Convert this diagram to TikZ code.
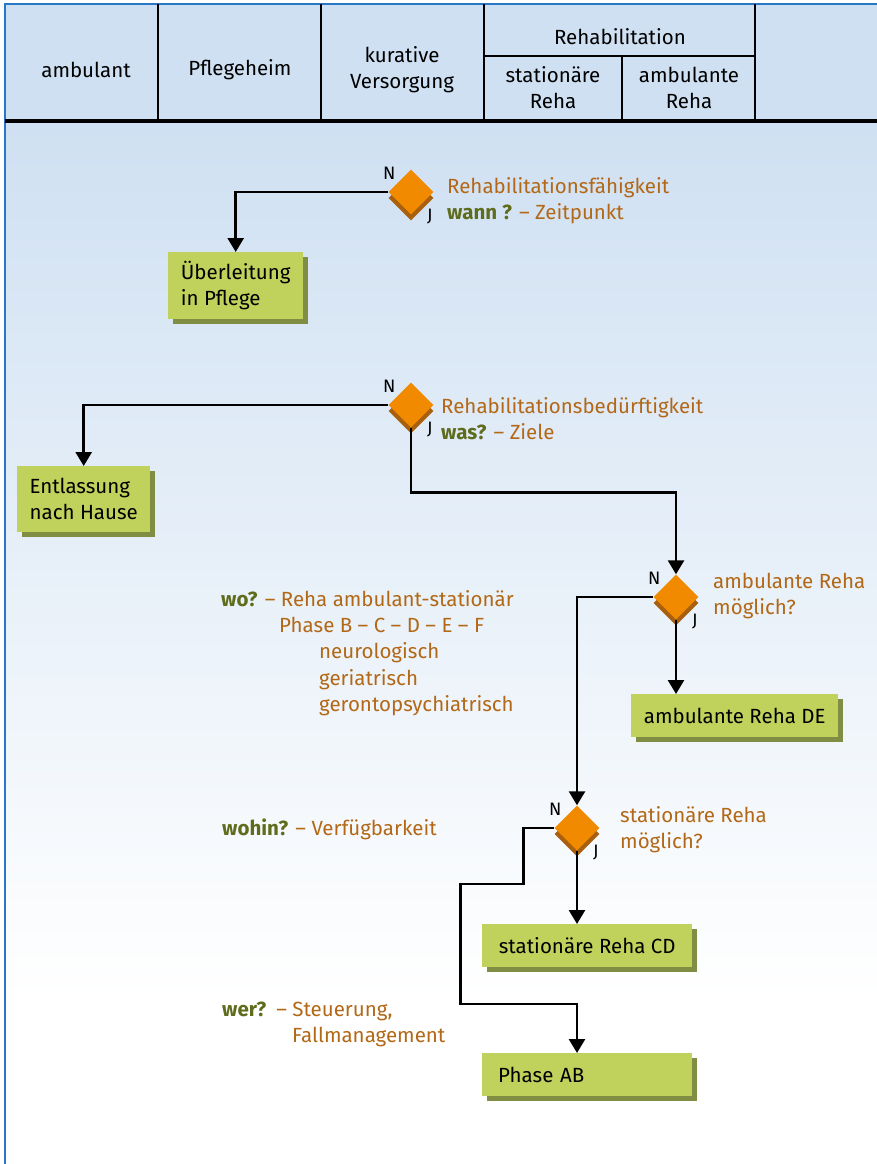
\documentclass[tikz,border=0pt]{standalone}
\usepackage{fontspec}
\setmainfont{Fira Sans}
\usetikzlibrary{arrows.meta,shapes.geometric,shadows}

\definecolor{hdrblue}{RGB}{207,224,242}
\definecolor{frameblue}{RGB}{40,120,200}
\definecolor{boxgreen}{RGB}{192,210,92}
\definecolor{boxshade}{RGB}{128,142,68}
\definecolor{diaorange}{RGB}{242,138,0}
\definecolor{diashade}{RGB}{168,96,14}
\definecolor{txtbrown}{RGB}{178,104,22}
\definecolor{txtgreen}{RGB}{94,108,28}

\tikzset{
  hdrline/.style={line width=2.5pt},
  flow/.style={line width=2.6pt,-{Triangle[width=16pt,length=14pt]}},
  decision/.style={diamond,fill=diaorange,minimum width=45pt,minimum height=45pt,inner sep=0pt,
    drop shadow={shadow xshift=0pt,shadow yshift=-6pt,fill=diashade,opacity=1}},
  outcome/.style={rectangle,fill=boxgreen,inner xsep=10pt,inner ysep=0pt,align=left,anchor=north west,
    drop shadow={shadow xshift=5pt,shadow yshift=-5pt,fill=boxshade,opacity=1}},
  nj/.style={font=\fontsize{18}{18}\selectfont,inner sep=0pt,anchor=base west},
  note/.style={anchor=base west,inner sep=0pt,text=txtbrown},
  hdr/.style={align=center,inner sep=0pt}
}
\newcommand{\ask}[1]{\textcolor{txtgreen}{\bfseries #1}}

\begin{document}
\begin{tikzpicture}
  [x=1pt,y=-1pt,every node/.style={font=\fontsize{20.5}{26}\selectfont}]

  \useasboundingbox (0,0) rectangle (877,1164);

  % background and frame
  \fill[hdrblue] (5,4) rectangle (877,121);
  \shade[top color=hdrblue,bottom color=white] (5,121) rectangle (877,1000);
  \draw[frameblue,line width=1.5pt] (877,4) -- (5,4) -- (5,1164);

  % header
  \draw[hdrline] (158,4) -- (158,121);
  \draw[hdrline] (321,4) -- (321,121);
  \draw[hdrline] (484,4) -- (484,121);
  \draw[hdrline] (755,4) -- (755,121);
  \draw[hdrline] (484,56) -- (755,56);
  \draw[hdrline] (622,56) -- (622,121);
  \draw[line width=3.5pt] (5,121) -- (877,121);

  \node[hdr] (h1) at (86,70)  {ambulant};
  \node[hdr] (h2) at (240,70) {Pflegeheim};
  \node[hdr] (h3) at (402,70) {kurative\\Versorgung};
  \node[hdr] (h4) at (620,37) {Rehabilitation};
  \node[hdr] (h5) at (553,88) {stationäre\\Reha};
  \node[hdr] (h6) at (689,88) {ambulante\\Reha};

  % decisions
  \node[decision] (d1) at (411,192) {};
  \node[decision] (d2) at (411,405) {};
  \node[decision] (d3) at (676,597) {};
  \node[decision] (d4) at (577,828) {};

  \node[nj] (n1) at ([shift={(-28,-13)}]d1.center) {N};
  \node[nj] (j1) at ([shift={(16,29)}]d1.center) {J};
  \node[nj] (n2) at ([shift={(-28,-13)}]d2.center) {N};
  \node[nj] (j2) at ([shift={(16,29)}]d2.center) {J};
  \node[nj] (n3) at ([shift={(-28,-13)}]d3.center) {N};
  \node[nj] (j3) at ([shift={(16,29)}]d3.center) {J};
  \node[nj] (n4) at ([shift={(-28,-13)}]d4.center) {N};
  \node[nj] (j4) at ([shift={(16,29)}]d4.center) {J};

  % outcomes
  \node[outcome,minimum width=135pt,minimum height=67pt] (b1) at (168,252) {Überleitung\\in Pflege};
  \node[outcome,minimum width=133pt,minimum height=66pt] (b2) at (17,466) {Entlassung\\nach Hause};
  \node[outcome,minimum width=207pt,minimum height=43pt] (b3) at (631,694) {ambulante Reha DE};
  \node[outcome,minimum width=210pt,minimum height=43pt] (b4) at (482,924) {stationäre Reha CD};
  \node[outcome,inner xsep=16pt,text width=178pt,minimum height=43pt] (b5) at (482,1053) {Phase AB};

  % connectors
  \draw[flow] (d1.west) -| (b1.north);
  \draw[flow] (d2.west) -| (b2.north);
  \draw[flow] (d2.south) -- ++(0,65) -| (d3.north);
  \draw[flow] (d3.west) -| (d4.north);
  \draw[flow] (d3.south) -- (d3.south |- b3.north);
  \draw[flow] (d4.south) -- (d4.south |- b4.north);
  \draw[flow] (d4.west) -- ++(-31,0) -- ++(0,56) -- ++(-63,0) -- ++(0,120) -| (d4.south |- b5.north);

  % notes
  \node[note] (t1a) at (447,193) {Rehabilitationsfähigkeit};
  \node[note] (t1b) at (447,219) {\ask{wann ?} – Zeitpunkt};
  \node[note] (t2a) at (441,413) {Rehabilitationsbedürftigkeit};
  \node[note] (t2b) at (441,439) {\ask{was?} – Ziele};
  \node[note] (t3a) at (713,588) {ambulante Reha};
  \node[note] (t3b) at (713,614) {möglich?};
  \node[note] (t4a) at (620,822) {stationäre Reha};
  \node[note] (t4b) at (620,848) {möglich?};

  \node[note] (w1) at (221,606)  {\ask{wo?} – Reha ambulant-stationär};
  \node[note] (w2) at (279,632)  {Phase B – C – D – E – F};
  \node[note] (w3) at (319,658)  {neurologisch};
  \node[note] (w4) at (319,685)  {geriatrisch};
  \node[note] (w5) at (319,711)  {gerontopsychiatrisch};
  \node[note] (w6) at (222,835)  {\ask{wohin?} – Verfügbarkeit};
  \node[note] (w7) at (222,1016) {\ask{wer?}\hspace{10pt}– Steuerung,};
  \node[note] (w8) at (292,1042) {Fallmanagement};

\end{tikzpicture}
\end{document}
